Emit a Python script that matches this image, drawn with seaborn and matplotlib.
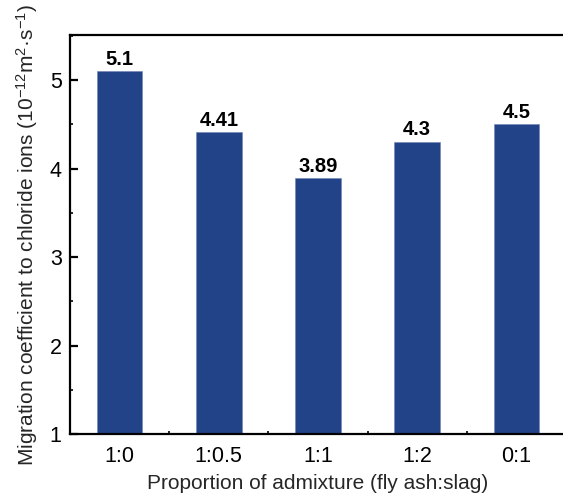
import matplotlib
matplotlib.use("Agg")
import matplotlib.pyplot as plt
from matplotlib.ticker import MultipleLocator, FixedLocator
import seaborn as sns
import pandas as pd

# Fly ash : slag proportions and chloride migration coefficients
ratios = ["1:0", "1:0.5", "1:1", "1:2", "0:1"]
coefficients = [5.1, 4.41, 3.89, 4.3, 4.5]
value_labels = ["5.1", "4.41", "3.89", "4.3", "4.5"]

df = pd.DataFrame({"ratio": ratios, "coef": coefficients})

sns.set_style("ticks")
plt.rcParams["font.family"] = ["Liberation Sans", "DejaVu Sans"]
plt.rcParams["mathtext.fontset"] = "custom"
plt.rcParams["mathtext.rm"] = "Liberation Sans"
plt.rcParams["mathtext.it"] = "Liberation Sans"

fig = plt.figure(figsize=(5.63, 4.93), dpi=100)
ax = fig.add_axes([70 / 563, 59 / 493, 496 / 563, 399 / 493])

sns.barplot(data=df, x="ratio", y="coef", color="#234389", saturation=1,
            width=0.46, ax=ax, edgecolor="#6f84b8", linewidth=0.4)

ax.set_ylim(1, 5.51)
ax.set_xlim(-0.5, 4.5)
ax.yaxis.set_major_locator(MultipleLocator(1))
ax.yaxis.set_minor_locator(MultipleLocator(0.5))
ax.xaxis.set_minor_locator(FixedLocator([0.5, 1.5, 2.5, 3.5]))

for i, (v, lab) in enumerate(zip(coefficients, value_labels)):
    ax.text(i, v + 0.03, lab, ha="center", va="bottom", fontsize=14.5,
            fontweight="bold", color="black")

for side in ["left", "bottom", "top"]:
    ax.spines[side].set_linewidth(1.6)
    ax.spines[side].set_color("black")
ax.spines["right"].set_visible(False)

ax.tick_params(axis="both", which="major", direction="in", length=6,
               width=1.6, labelsize=15.5, colors="black")
ax.tick_params(axis="x", which="major", pad=9)
ax.tick_params(axis="y", which="major", pad=6)
ax.tick_params(axis="both", which="minor", direction="in", length=2.5,
               width=1.4)
ax.tick_params(axis="x", which="both", top=False)

ax.set_xlabel("Proportion of admixture (fly ash:slag)", fontsize=15, labelpad=5)
ax.set_ylabel("Migration coefficient to chloride ions (10$^{-12}$m$^{2}$·s$^{-1}$)",
              fontsize=15, labelpad=7)

fig.savefig("out.png", dpi=100)
